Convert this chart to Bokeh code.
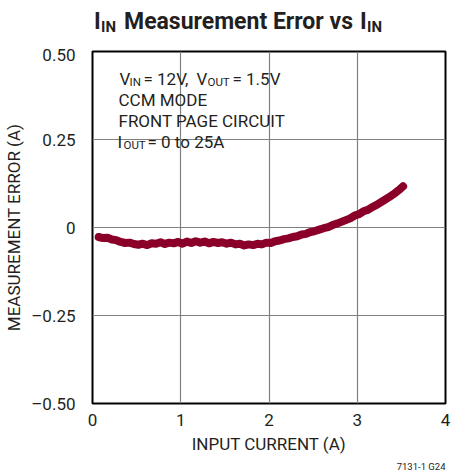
from bokeh.plotting import figure
from bokeh.models import Label, FixedTicker, Range1d, Div, Title
from bokeh.layouts import column
from bokeh.embed import file_html
from bokeh.resources import INLINE

x_cur = [0.07, 0.12, 0.17, 0.22, 0.27, 0.32, 0.37, 0.42, 0.47, 0.52, 0.57, 0.62, 0.67, 0.72,
         0.77, 0.82, 0.87, 0.92, 0.97, 1.02, 1.07, 1.12, 1.17, 1.22, 1.27, 1.32, 1.37, 1.42,
         1.47, 1.52, 1.57, 1.62, 1.67, 1.72, 1.77, 1.82, 1.87, 1.92, 1.97, 2.02, 2.07, 2.12,
         2.17, 2.22, 2.27, 2.32, 2.37, 2.42, 2.47, 2.52, 2.57, 2.62, 2.67, 2.72, 2.77, 2.82,
         2.87, 2.92, 2.97, 3.02, 3.07, 3.12, 3.17, 3.22, 3.27, 3.32, 3.37, 3.42, 3.47, 3.52]
y_err = [-0.027, -0.030, -0.029, -0.034, -0.036, -0.041, -0.044, -0.043, -0.047, -0.049,
         -0.046, -0.050, -0.045, -0.046, -0.042, -0.047, -0.043, -0.045, -0.041, -0.046,
         -0.040, -0.044, -0.039, -0.043, -0.040, -0.045, -0.041, -0.044, -0.042, -0.046,
         -0.043, -0.048, -0.046, -0.051, -0.048, -0.050, -0.046, -0.048, -0.043, -0.044,
         -0.039, -0.037, -0.033, -0.031, -0.027, -0.025, -0.020, -0.018, -0.013, -0.010,
         -0.006, -0.002, 0.001, 0.007, 0.011, 0.016, 0.021, 0.026, 0.034, 0.038,
         0.046, 0.050, 0.058, 0.064, 0.072, 0.080, 0.088, 0.096, 0.106, 0.117]

x_ticks = [0, 1, 2, 3, 4]
y_ticks = [-0.5, -0.25, 0, 0.25, 0.5]
y_tick_labels = ["\u20130.50", "\u20130.25", "0", "0.25", "0.50"]

FONT = "Roboto"
RED = "#8a0028"
INK = "#231f20"

TITLE_H = 44

title_html = (
    '<div style="position:relative;width:461px;height:%dpx;font-family:Roboto;'
    'font-weight:bold;color:%s;white-space:nowrap;">'
    '<span style="position:absolute;left:94px;top:10px;font-size:23px;line-height:23px;">I</span>'
    '<span style="position:absolute;left:101px;top:20px;font-size:15px;line-height:15px;">IN</span>'
    '<span style="position:absolute;left:124px;top:10px;font-size:23px;line-height:23px;">Measurement Error vs</span>'
    '<span style="position:absolute;left:360px;top:10px;font-size:23px;line-height:23px;">I</span>'
    '<span style="position:absolute;left:367px;top:20px;font-size:15px;line-height:15px;">IN</span>'
    '</div>' % (TITLE_H, INK)
)
head = Div(text=title_html, width=461, height=TITLE_H, margin=(0, 0, 0, 0))

p = figure(width=461, height=473 - TITLE_H, output_backend="svg", toolbar_location=None,
           x_range=Range1d(0, 4), y_range=Range1d(-0.5, 0.5),
           min_border_left=92, min_border_right=16, min_border_top=51 - TITLE_H,
           min_border_bottom=70, margin=(0, 0, 0, 0))

p.outline_line_color = "black"
p.outline_line_width = 2
p.background_fill_color = "white"
p.border_fill_color = "white"

for ax in (p.xaxis, p.yaxis):
    ax.axis_line_color = None
    ax.major_tick_line_color = None
    ax.minor_tick_line_color = None
    ax.major_label_text_font = FONT
    ax.major_label_text_font_size = "17px"
    ax.major_label_text_color = INK
    ax.axis_label_text_font = FONT
    ax.axis_label_text_font_size = "17px"
    ax.axis_label_text_font_style = "normal"
    ax.axis_label_text_color = INK

p.xaxis.ticker = FixedTicker(ticks=x_ticks)
p.yaxis.ticker = FixedTicker(ticks=y_ticks)
p.yaxis.major_label_overrides = {t: l for t, l in zip(y_ticks, y_tick_labels)}
p.xaxis.major_label_standoff = 4
p.yaxis.major_label_standoff = 11
p.xaxis.axis_label = "INPUT CURRENT (A)"
p.yaxis.axis_label = "MEASUREMENT ERROR (A)"
p.xaxis.axis_label_standoff = 5
p.yaxis.axis_label_standoff = 4

p.grid.grid_line_color = "#808080"
p.grid.grid_line_width = 1.2
p.xgrid.ticker = FixedTicker(ticks=x_ticks)
p.ygrid.ticker = FixedTicker(ticks=y_ticks)

p.line(x_cur, y_err, line_color=RED, line_width=8, line_cap="round", line_join="round")

foot = Title(text="7131-1 G24", align="right", text_font=FONT, text_font_size="9.5px",
             text_font_style="normal", text_color=INK, standoff=4)
p.add_layout(foot, "below")


def xd(px):
    return (px - 92) / 88.25


def yd(py):
    return (227 - py) / 352


def lab(px, py, txt, size):
    p.add_layout(Label(x=xd(px), y=yd(py), text=txt, text_font=FONT,
                       text_font_size=size, text_color=INK, text_align="left",
                       text_baseline="alphabetic"))


MAIN = "17px"
SUB = "11.5px"
lab(119, 78, "V", MAIN)
lab(129, 81.5, "IN", SUB)
lab(143, 78, "= 12V,", MAIN)
lab(196, 78, "V", MAIN)
lab(207, 81.5, "OUT", SUB)
lab(232, 78, "= 1.5V", MAIN)
lab(118, 99, "CCM MODE", MAIN)
lab(118, 120, "FRONT PAGE CIRCUIT", MAIN)
lab(117, 141, "I", MAIN)
lab(123, 144.5, "OUT", SUB)
lab(147, 141, "= 0 to 25A", MAIN)

layout = column(head, p, margin=(0, 0, 0, 0), spacing=0)
open("out.html", "w").write(file_html(layout, INLINE))
